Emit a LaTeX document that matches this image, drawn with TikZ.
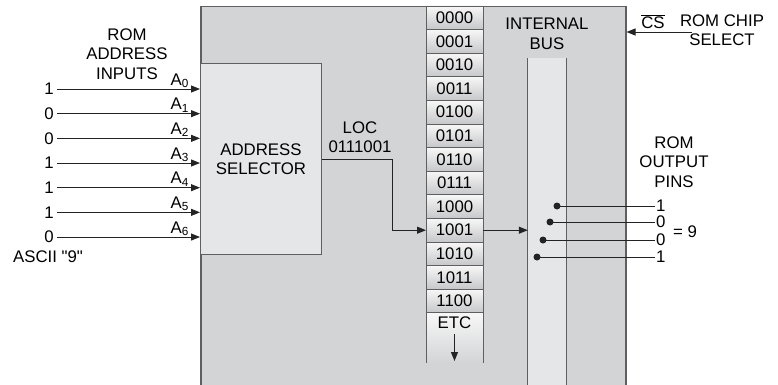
\documentclass[tikz,border=0pt]{standalone}
\usepackage{fontspec}
\setmainfont{Liberation Sans}[Ligatures=TeXOff]
\usepackage{tikz}
\usetikzlibrary{arrows.meta, positioning, calc}
\definecolor{chipgray}{RGB}{211,212,214}
\definecolor{selgray}{RGB}{229,230,231}
\definecolor{framegray}{RGB}{95,95,97}
\definecolor{wire}{RGB}{35,35,35}
\definecolor{celltop}{RGB}{247,247,247}
\definecolor{cellbot}{RGB}{198,199,201}
\newcommand{\lbl}{\fontsize{16.8}{19.5}\selectfont}
\tikzset{
  chip/.style={rectangle, draw=framegray, fill=chipgray, line width=1.5pt},
  selbox/.style={rectangle, draw=framegray, fill=selgray,
    font=\lbl, align=center, line width=1pt},
  cell/.style={rectangle, draw=framegray, top color=celltop, bottom color=cellbot,
    minimum width=57pt, minimum height=23.6pt, inner sep=0pt, outer sep=0pt,
    font=\lbl, line width=0.8pt},
  arrow/.style={-{Triangle[length=9pt,width=7pt]}, line width=1pt, color=wire},
  line/.style={line width=1pt, color=wire},
  edge/.style={line width=0.8pt, color=framegray},
  pin/.style={circle, fill=wire, minimum size=7pt, inner sep=0pt},
  txt/.style={font=\lbl, align=center, inner sep=1pt}
}

\begin{document}
\begin{tikzpicture}[x=1pt, y=1pt]
  \path[use as bounding box, clip] (0,0) rectangle (778,384);

  % ROM chip and address selector
  \node[chip, anchor=north west, minimum width=425pt, minimum height=420pt] (rom) at (200,378) {};
  \node[selbox, anchor=north west, minimum width=121pt, minimum height=191pt] (sel) at (200,321) {ADDRESS\\SELECTOR};

  % memory locations
  \node[cell, anchor=north west] (c1) at (426,378) {0000};
  \foreach \v [count=\i from 2] in {0001,0010,0011,0100,0101,0110,0111,1000,1001,1010,1011,1100} {
    \pgfmathtruncatemacro{\p}{\i-1}
    \node[cell, below=0pt of c\p] (c\i) {\v};
  }
  \node[anchor=north, minimum width=57pt, minimum height=50pt, inner sep=0pt, outer sep=0pt,
    top color=celltop, bottom color=chipgray] (etc) at ([yshift=-0.4pt]c13.south) {};
  \draw[edge] (etc.north west) -- (etc.south west) (etc.north east) -- (etc.south east);
  \node[txt] (etclbl) at (454.5,61) {ETC};
  \coordinate (etcend) at (454.5,23);
  \draw[arrow] (454.5,50) -- (etcend);

  % internal bus
  \node[anchor=north, minimum width=38pt, minimum height=360pt, inner sep=0pt, fill=selgray] (bus) at (547,326) {};
  \draw[edge] (bus.north west) -- (bus.south west) (bus.north east) -- (bus.south east);
  \node[txt] (buslbl) at (547,350) {INTERNAL\\BUS};

  % address inputs
  \node[txt] (inlbl) at (127,330) {ROM\\ADDRESS\\INPUTS};
  \foreach \v [count=\i from 0] in {1,0,0,1,1,1,0} {
    \pgfmathsetmacro{\yy}{295-24.67*\i}
    \node[txt, anchor=east] (in\i) at (55,\yy) {\v};
    \node[txt, anchor=base east, inner sep=0pt] (a\i) at (189,\yy+4) {A\textsubscript{\i}};
    \draw[arrow] ([xshift=2pt]in\i.east) -- (in\i.east -| sel.west);
  }
  \node[txt] (ascii) at (48,127) {ASCII "9"};

  % selected location
  \node[txt] (loc) at (360,247) {LOC\\0111001};
  \coordinate (bend) at (392,224);
  \draw[line] (sel.east) -| (bend |- c10.west);
  \draw[arrow] (bend |- c10.west) -- (c10.west);
  \draw[arrow] (c10.east) -- (c10.east -| bus.west);

  % chip select
  \node[txt] (cs) at (653,362) {$\overline{\mbox{CS}}$};
  \node[txt] (cssel) at (722,354) {ROM CHIP\\SELECT};
  \coordinate (csin) at (692,352);
  \draw[arrow] (csin) -- (csin -| rom.east);

  % output pins
  \node[txt] (outlbl) at (674,222) {ROM\\OUTPUT\\PINS};
  \foreach \v/\x/\y [count=\i] in {1/557/178, 0/550/162, 0/543/144, 1/537/127} {
    \node[pin] (p\i) at (\x,\y) {};
    \node[txt, anchor=west] (v\i) at (655,\y) {\v};
    \draw[line] (p\i.center) -- (v\i.west);
  }
  \node[txt] (eq) at (685,152) {= 9};
\end{tikzpicture}
\end{document}
